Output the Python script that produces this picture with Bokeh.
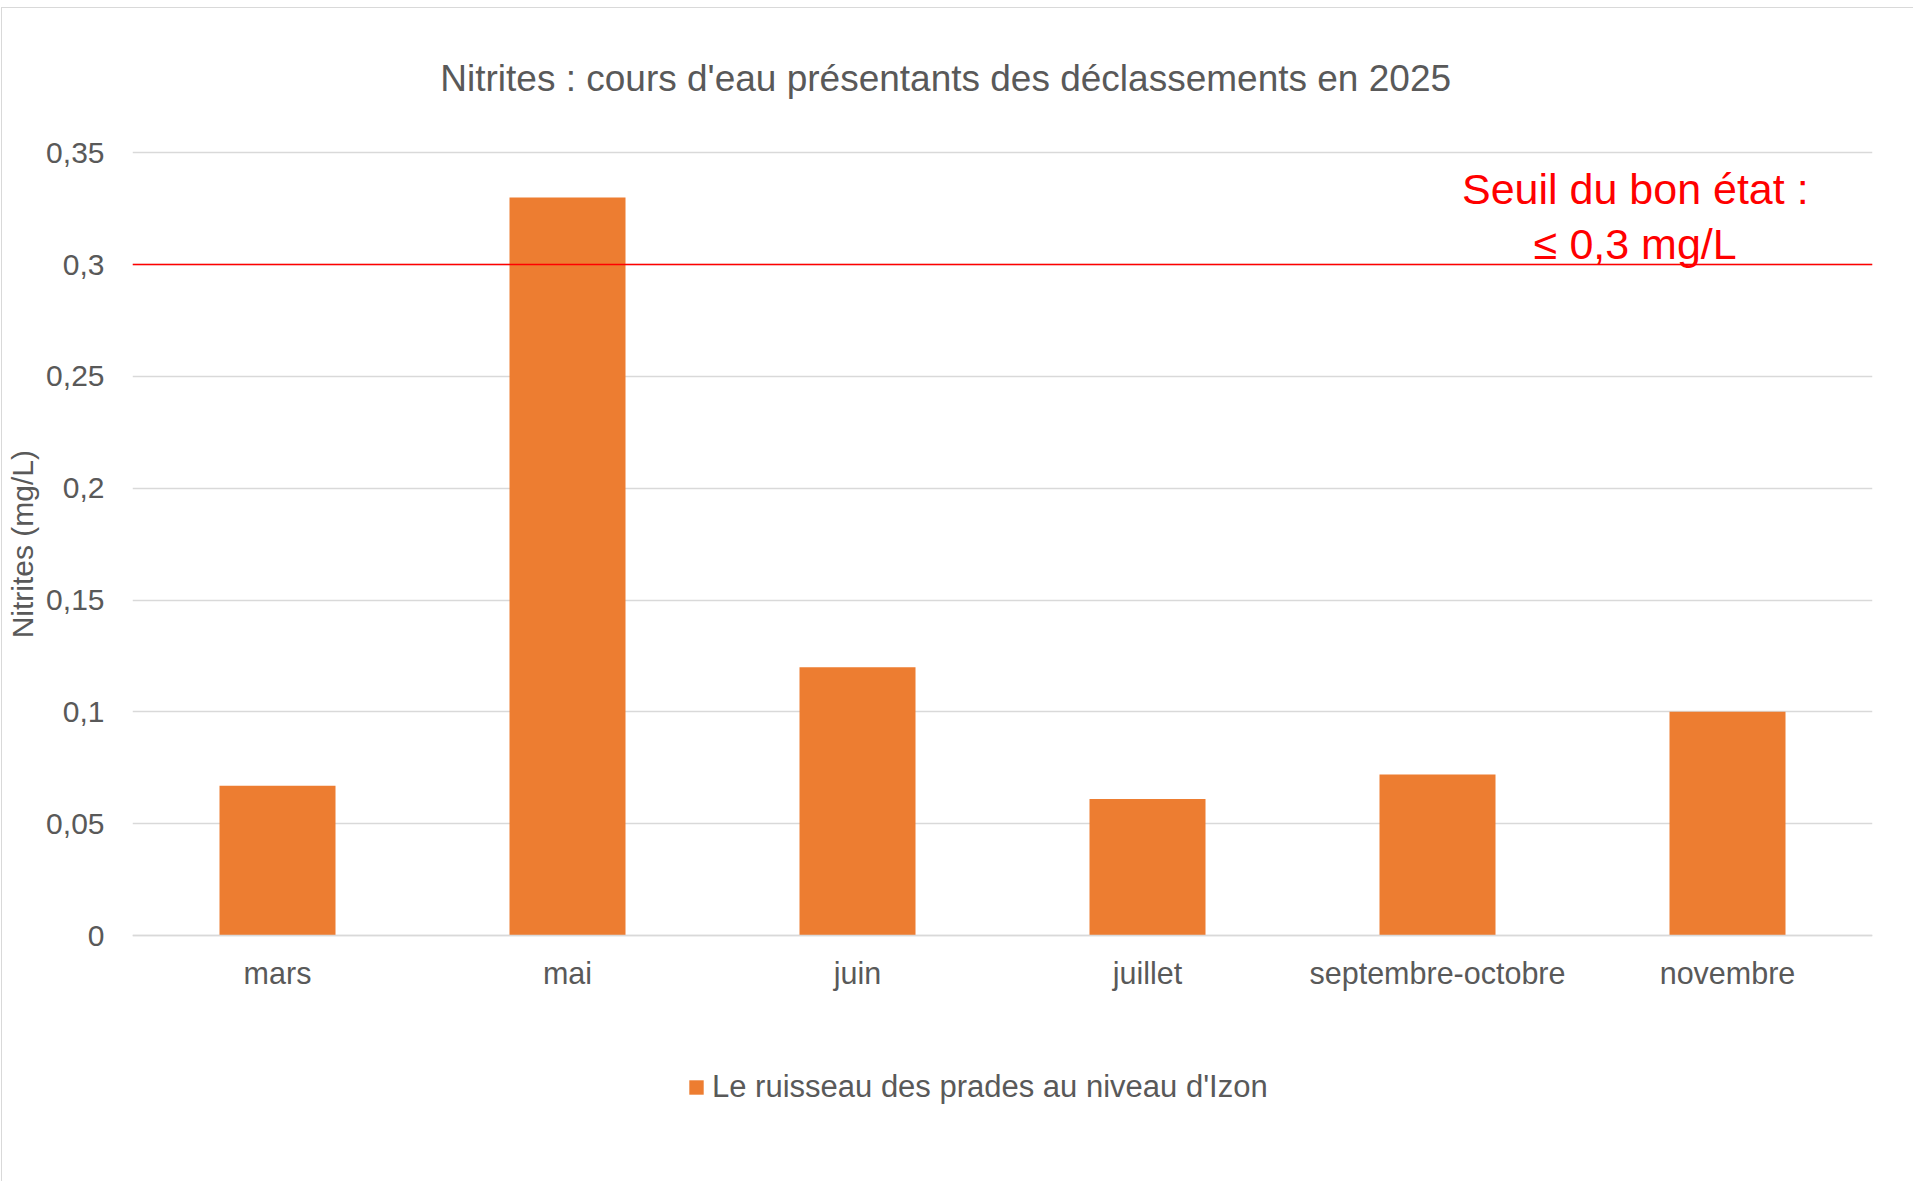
from math import pi
from bokeh.plotting import figure
from bokeh.models import Range1d, FixedTicker, Label, Span, Legend, LegendItem, FactorRange
from bokeh.embed import file_html
from bokeh.resources import INLINE

# ---- data ----
categories = ["mars", "mai", "juin", "juillet", "septembre-octobre", "novembre"]
nitrites = [0.067, 0.33, 0.12, 0.061, 0.072, 0.10]
series_name = "Le ruisseau des prades au niveau d'Izon"
y_ticks = [0, 0.05, 0.1, 0.15, 0.2, 0.25, 0.3, 0.35]
y_tick_labels = ["0", "0,05", "0,1", "0,15", "0,2", "0,25", "0,3", "0,35"]
threshold = 0.3
title_text = "Nitrites : cours d'eau présentants des déclassements en 2025"
threshold_lines = ["Seuil du bon état :", "≤ 0,3 mg/L"]
y_label = "Nitrites (mg/L)"

FONT = "Liberation Sans"
GRAY = "#595959"
GRID = "#D9D9D9"
ORANGE = "#ED7D31"
RED = "#FF0000"

# The frame covers the whole chart height (title and legend live inside it,
# so they are not clipped); the value axis itself is bounded to 0 .. 0.35.
p = figure(
    x_range=FactorRange(factors=categories, range_padding=0),
    y_range=Range1d(-0.08362, 0.40558),
    width=1912, height=1174,
    output_backend="svg", toolbar_location=None, title=None,
    min_border_left=130, min_border_right=42,
    min_border_top=20, min_border_bottom=60,
)
p.styles = {"margin-left": "2px", "margin-top": "8px", "box-shadow": "-1px -1px 0 0 #d9d9d9"}
p.outline_line_color = None
p.background_fill_color = "white"
p.border_fill_color = "white"

r = p.vbar(x=categories, top=nitrites, width=0.4, fill_color=ORANGE, line_color=None)

ticker = FixedTicker(ticks=y_ticks)

# axes / grid
p.xgrid.grid_line_color = None
p.ygrid.ticker = ticker
p.ygrid.grid_line_color = GRID
p.ygrid.grid_line_width = 1.3

p.yaxis.ticker = ticker
p.yaxis.bounds = (0, 0.35)
p.yaxis.major_label_overrides = {t: lab for t, lab in zip(y_ticks, y_tick_labels)}
p.yaxis.axis_line_color = None
p.yaxis.major_tick_line_color = None
p.yaxis.minor_tick_line_color = None
p.yaxis.major_tick_out = 0
p.yaxis.major_tick_in = 0
p.yaxis.minor_tick_out = 0
p.yaxis.major_label_standoff = 28
p.yaxis.major_label_text_font = FONT
p.yaxis.major_label_text_font_size = "30px"
p.yaxis.major_label_text_color = GRAY

p.xaxis.fixed_location = 0
p.xaxis.axis_line_color = GRID
p.xaxis.axis_line_width = 1.3
p.xaxis.major_tick_line_color = None
p.xaxis.major_tick_out = 0
p.xaxis.major_tick_in = 0
p.xaxis.major_label_standoff = 20
p.xaxis.major_label_text_font = FONT
p.xaxis.major_label_text_font_size = "30.5px"
p.xaxis.major_label_text_color = GRAY

# y-axis title, centred on the 0 .. 0.35 value span (left side panel => not clipped)
p.add_layout(Label(x=-0.378, y=0.175, text=y_label, angle=pi / 2,
                   text_align="center", text_baseline="middle",
                   text_font=FONT, text_font_size="30px", text_color=GRAY), "left")

# threshold line
p.add_layout(Span(location=threshold, dimension="width", line_color=RED, line_width=1.5))

# title
p.add_layout(Label(x=2.804, y=0.383, text=title_text, text_align="center", text_baseline="middle",
                   text_font=FONT, text_font_size="37px", text_color=GRAY))

# threshold annotation
p.add_layout(Label(x=5.182, y=0.334, text=threshold_lines[0], text_align="center", text_baseline="middle",
                   text_font=FONT, text_font_size="43px", text_color=RED))
p.add_layout(Label(x=5.182, y=0.309, text=threshold_lines[1], text_align="center", text_baseline="middle",
                   text_font=FONT, text_font_size="43px", text_color=RED))

legend = Legend(items=[LegendItem(label=series_name, renderers=[r])],
                location=(555, 17), orientation="horizontal",
                glyph_width=18, glyph_height=18, label_standoff=7, label_height=35,
                padding=0, margin=0, spacing=0,
                border_line_color=None, background_fill_alpha=0,
                label_text_font=FONT, label_text_font_size="31px", label_text_color=GRAY)
p.add_layout(legend)

open("out.html", "w").write(file_html(p, INLINE))
